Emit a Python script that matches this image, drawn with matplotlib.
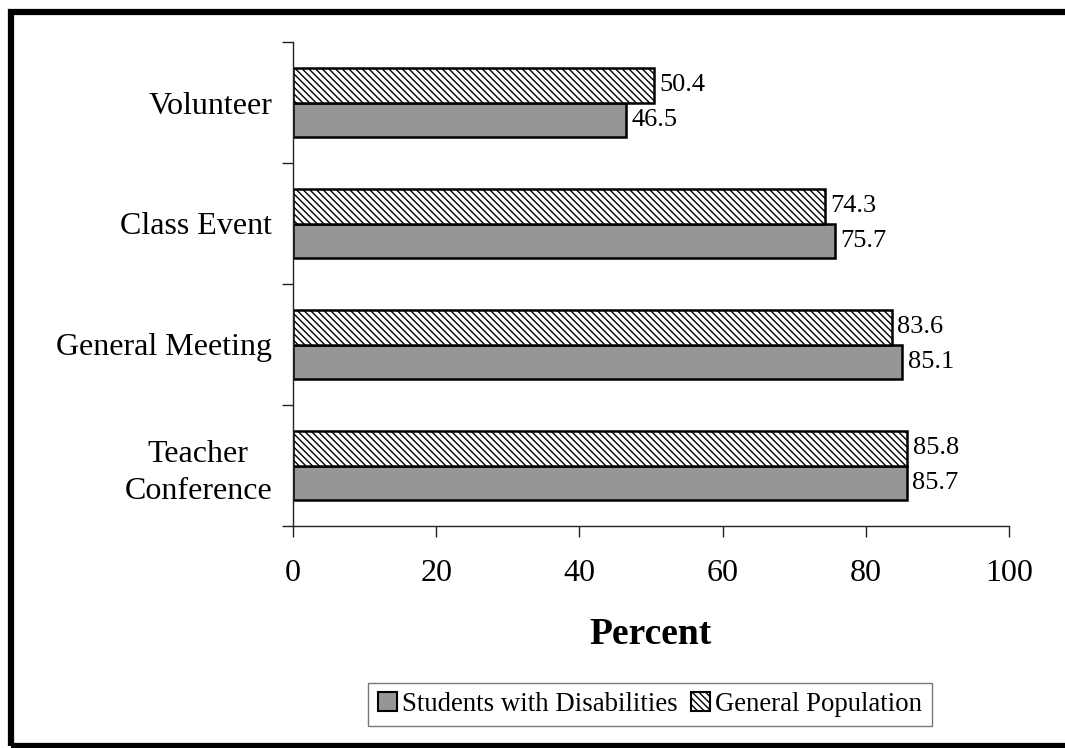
import matplotlib
matplotlib.use("Agg")
import matplotlib.pyplot as plt
from matplotlib.patches import Rectangle, Patch
import numpy as np

categories = ["Teacher\nConference", "General Meeting", "Class Event", "Volunteer"]
students_disab = [85.7, 85.1, 75.7, 46.5]
general_pop = [85.8, 83.6, 74.3, 50.4]
x_ticks = [0, 20, 40, 60, 80, 100]

plt.rcParams["font.family"] = ["Liberation Serif", "DejaVu Serif"]
plt.rcParams["hatch.linewidth"] = 1.0

fig = plt.figure(figsize=(10.65, 7.48), dpi=100)
ax = fig.add_axes([293 / 1065, 1 - 526 / 748, (1009 - 293) / 1065, (526 - 42) / 748])

y = np.arange(len(categories))
h = 0.285
gray = "#969696"
hatch = "\\\\\\\\\\"

ax.barh(y - h / 2, students_disab, height=h, color=gray, edgecolor="black", linewidth=1.8)
ax.barh(y + h / 2, general_pop, height=h, color="white", edgecolor="black",
        linewidth=1.8, hatch=hatch)

for yi, v in zip(y - h / 2, students_disab):
    ax.text(v + 0.8, yi, f"{v:.1f}", va="center", ha="left", fontsize=19)
for yi, v in zip(y + h / 2, general_pop):
    ax.text(v + 0.8, yi, f"{v:.1f}", va="center", ha="left", fontsize=19)

ax.set_xlim(0, 100)
ax.set_ylim(-0.5, 3.5)
ax.set_xticks(x_ticks)
ax.set_xticklabels([str(t) for t in x_ticks], fontsize=23)
ax.tick_params(axis="x", direction="out", length=8, width=1, pad=16, color="#222222")

# category boundary ticks on the y axis, labels centred between them
ax.set_yticks(np.arange(-0.5, 3.6, 1.0))
ax.set_yticklabels([])
ax.set_yticks(y, minor=True)
ax.set_yticklabels(categories, minor=True, fontsize=23, linespacing=1.35)
ax.tick_params(axis="y", which="major", direction="out", length=8, width=1, color="#222222")
ax.tick_params(axis="y", which="minor", length=0, pad=15)
for lbl in ax.get_yticklabels(minor=True):
    lbl.set_horizontalalignment("right")
    lbl.set_multialignment("center")

for s in ["top", "right"]:
    ax.spines[s].set_visible(False)
for s in ["left", "bottom"]:
    ax.spines[s].set_linewidth(1)
    ax.spines[s].set_color("#222222")

ax.set_xlabel("Percent", fontsize=27, fontweight="bold", labelpad=21)

handles = [Patch(facecolor=gray, edgecolor="black", linewidth=1.5, label="Students with Disabilities"),
           Patch(facecolor="white", edgecolor="black", linewidth=1.5, hatch=hatch, label="General Population")]
leg = fig.legend(handles=handles, loc="center", bbox_to_anchor=(650 / 1065, 1 - 704.5 / 748),
                 ncol=2, fontsize=19.3, frameon=True, fancybox=False, handlelength=0.7,
                 handleheight=0.7, handletextpad=0.2, columnspacing=0.5, borderpad=0.35,
                 borderaxespad=0, edgecolor="#555555")
leg.get_frame().set_linewidth(1.0)

# outer frame
fig.patches.append(Rectangle((11 / 1065, 1 - 746 / 748), 1.2, (746 - 12) / 748,
                             transform=fig.transFigure, fill=False, edgecolor="black",
                             linewidth=4.5, clip_on=True))

fig.savefig("out.png", dpi=100)
